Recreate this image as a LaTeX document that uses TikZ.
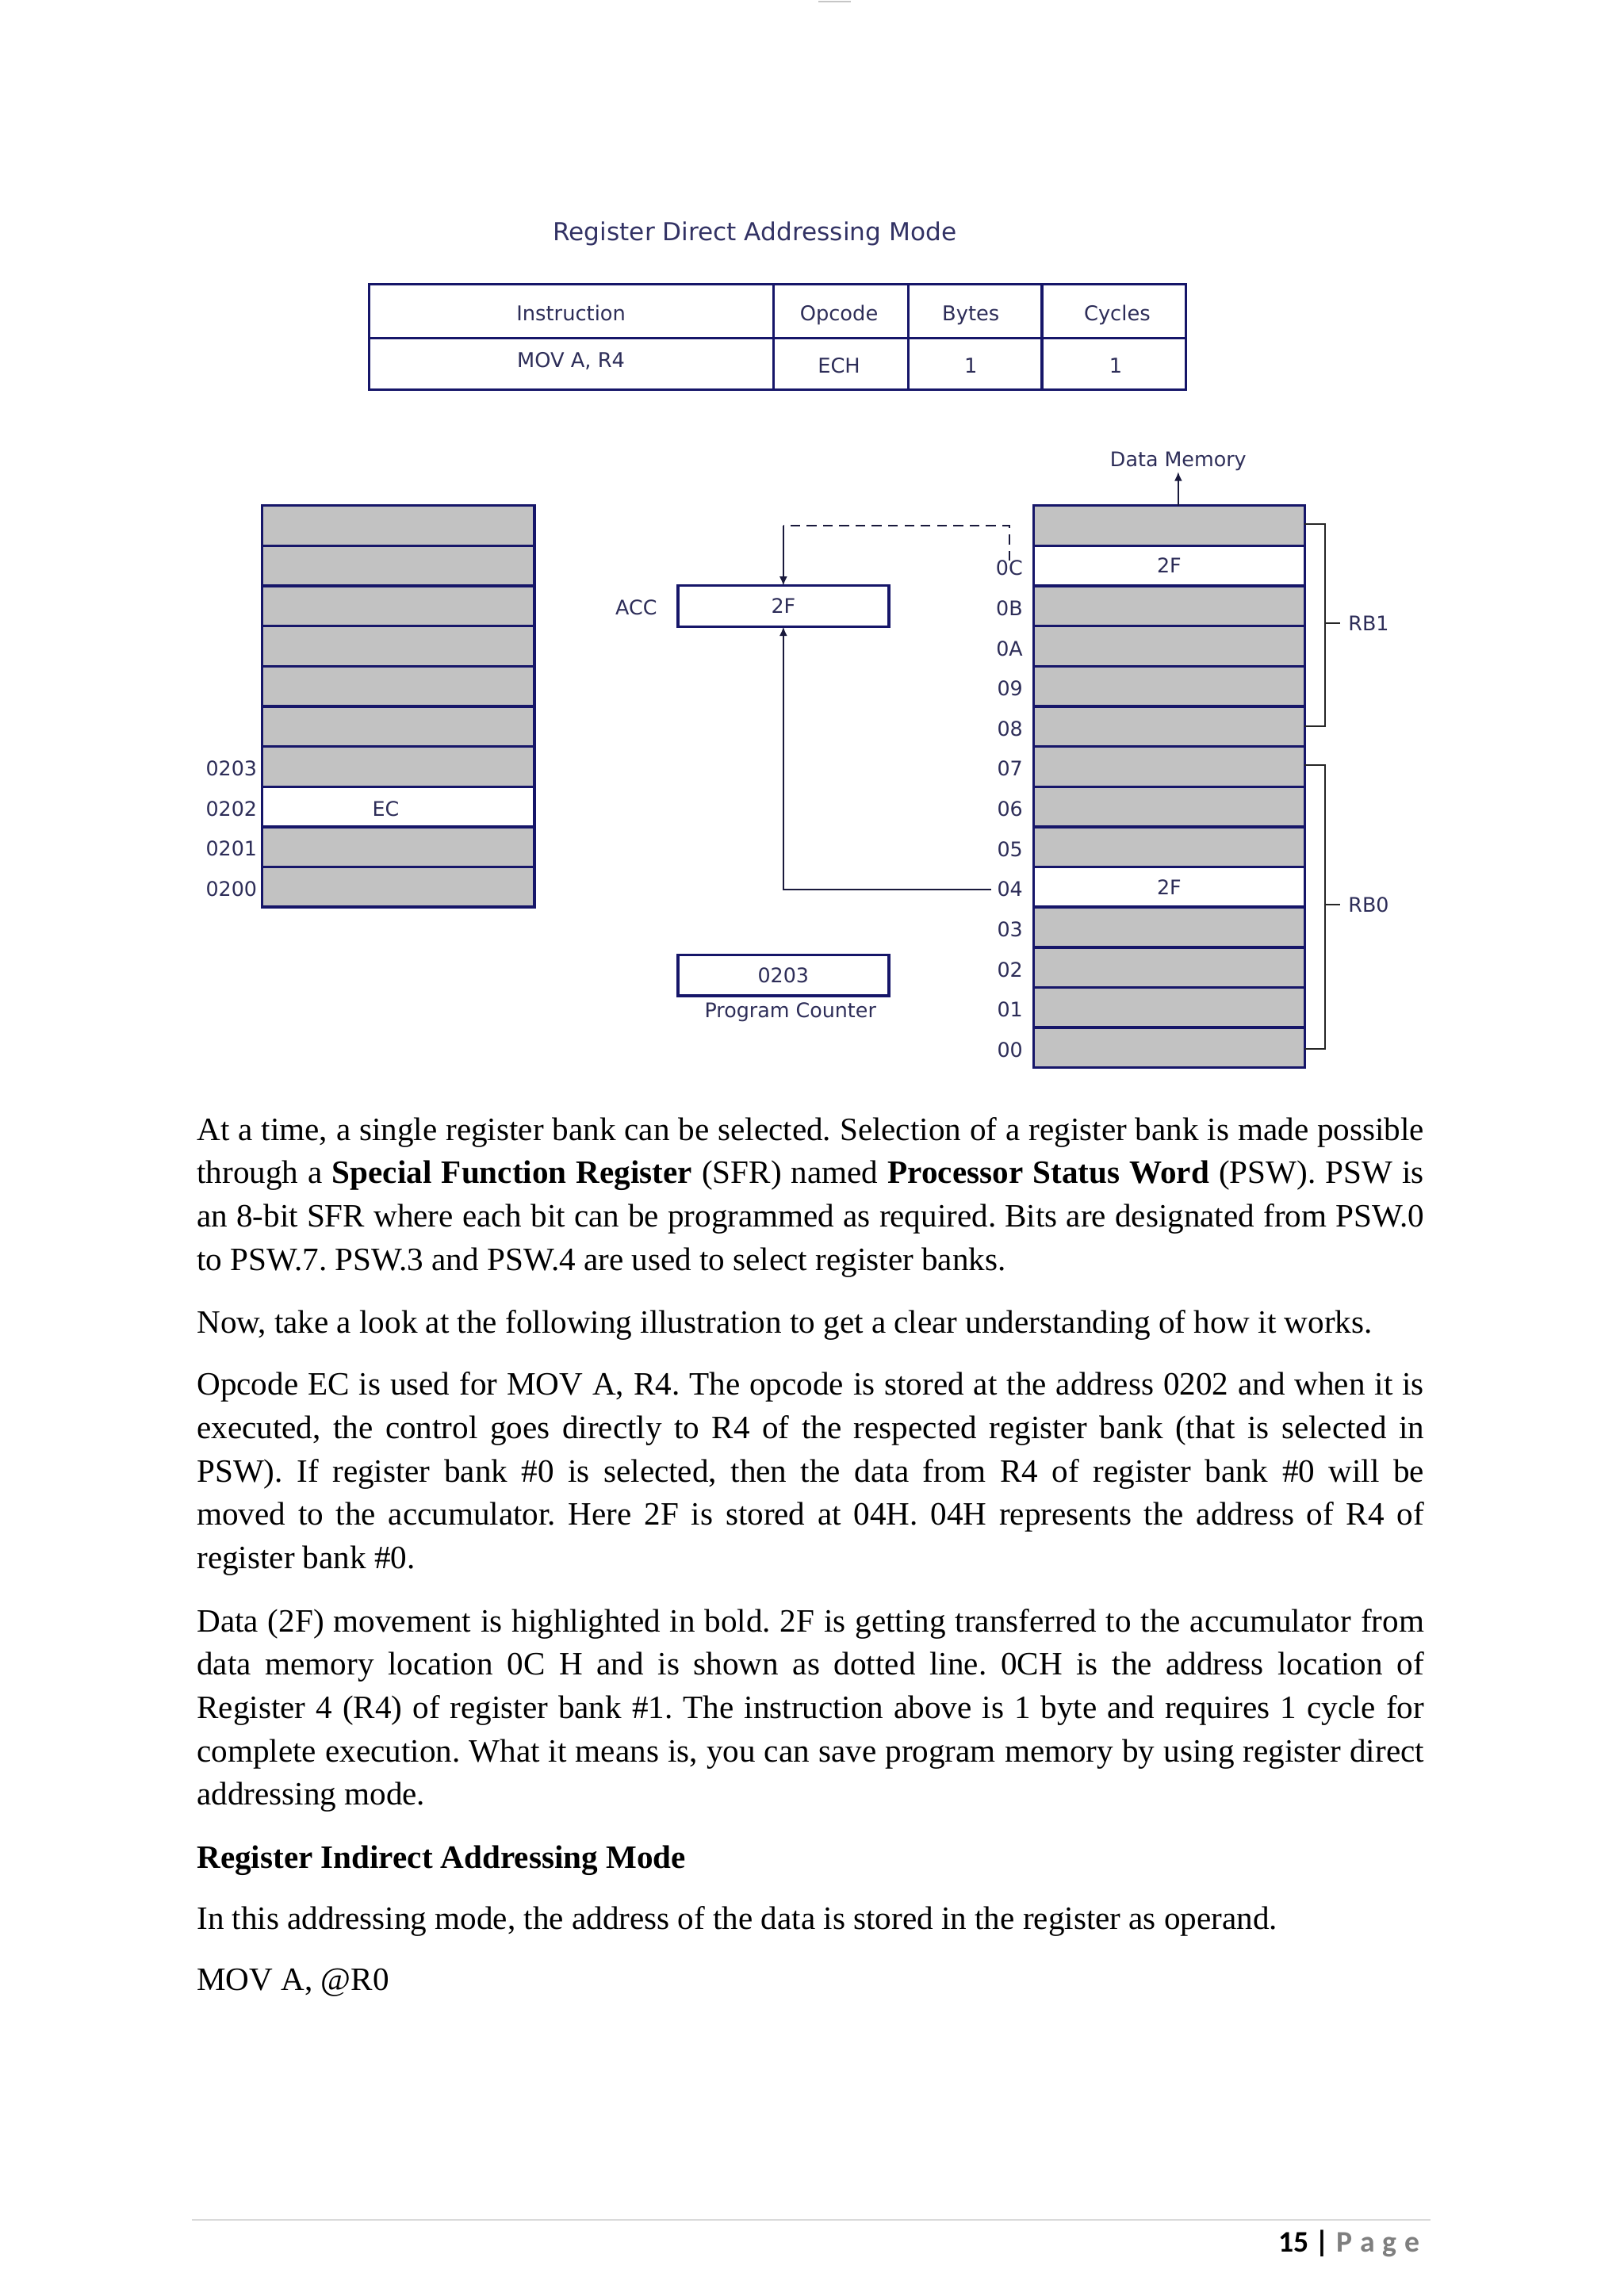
\documentclass[tikz,border=0pt]{standalone}
\usepackage{fontspec}
\setmainfont{Liberation Serif}
\newfontfamily\dvsfont{DejaVu Sans}
\newfontfamily\pagefont{Carlito}
\usetikzlibrary{arrows.meta,calc}
\definecolor{navy}{RGB}{22,22,105}
\definecolor{dtext}{RGB}{45,45,88}
\definecolor{ttext}{RGB}{50,50,100}
\definecolor{cellgray}{RGB}{194,194,194}
\definecolor{wire}{RGB}{25,25,60}
\definecolor{pagegray}{RGB}{127,127,127}
\definecolor{rulegray}{RGB}{218,218,218}
\def\pxu{0.18938mm}
\frenchspacing
\begin{document}
\frenchspacing
\begin{tikzpicture}[x=0.189360mm,y=-0.189413mm,
  body/.style={font=\frenchspacing\fontsize{12pt}{14pt}\selectfont, inner sep=0pt, anchor=base west},
  dlbl/.style={font=\dvsfont\fontsize{7.4pt}{9pt}\selectfont, text=dtext, inner sep=0pt, outer sep=0pt, text height=5.4pt, text depth=0pt},
  tlbl/.style={font=\dvsfont\fontsize{7.5pt}{9pt}\selectfont, text=dtext, inner sep=0pt, anchor=base},
  cell/.style={dlbl, draw=navy, line width=1pt, fill=cellgray, minimum height=27.42*\pxu, anchor=north west},
  regbox/.style={dlbl, draw=navy, line width=1pt, fill=white, minimum width=144*\pxu, minimum height=28*\pxu},
  tbl/.style={draw=navy, line width=1pt},
  wire/.style={draw=wire, line width=0.55pt},
  arr/.style={-{Latex[length=3.4pt,width=2.9pt]}},
  brk/.style={draw=black!85, line width=0.6pt}
]
\useasboundingbox (0,0) rectangle (1109,1568);
\draw[gray!45, line width=0.5pt] (559,1.2) -- (581,1.2);

% title and table
\node[font=\dvsfont\fontsize{9.1pt}{11pt}\selectfont, text=ttext, inner sep=0pt, anchor=base] (title) at (515.5,164.3) {Register Direct Addressing Mode};
\draw[tbl] (252,194) rectangle (810,266);
\draw[tbl] (252,231) -- (810,231);
\foreach \x in {528.3,620.3,711.6} \draw[tbl] (\x,194) -- (\x,266);
\node[tlbl] (thIns) at (390,218.8) {Instruction};
\node[tlbl] (thOp) at (573,218.8) {Opcode};
\node[tlbl] (thBy) at (663,218.8) {Bytes};
\node[tlbl] (thCy) at (763,218.8) {Cycles};
\node[tlbl] (tdIns) at (390,250.9) {MOV A, R4};
\node[tlbl] (tdOp) at (573,254.9) {ECH};
\node[tlbl] (tdBy) at (663,254.9) {1};
\node[tlbl] (tdCy) at (762,254.9) {1};

% program memory
\foreach \i/\f in {0/cellgray,1/cellgray,2/cellgray,3/cellgray,4/cellgray,5/cellgray,6/cellgray,7/white,8/cellgray,9/cellgray}
  \node[cell, fill=\f, minimum width=186*\pxu] (L\i) at (179,{345.3+\i*27.42}) {};
\node[dlbl] (ec) at (263.5,{346.5+7.5*27.42}) {EC};
\foreach \i/\t in {6/0203,7/0202,8/0201,9/0200}
  \node[dlbl, anchor=east] (l\t) at (175.5,{346.5+(\i+0.5)*27.42}) {\t};

% data memory
\foreach \i/\f/\t in {0/cellgray/{},1/white/2F,2/cellgray/{},3/cellgray/{},4/cellgray/{},5/cellgray/{},6/cellgray/{},7/cellgray/{},8/cellgray/{},9/white/2F,10/cellgray/{},11/cellgray/{},12/cellgray/{},13/cellgray/{}}
  \node[cell, fill=\f, minimum width=185*\pxu] (R\i) at (706,{345.3+\i*27.42}) {\t};
\foreach \i/\t in {1/0C,2/0B,3/0A,4/09,5/08,6/07,7/06,8/05,9/04,10/03,11/02,12/01,13/00}
  \node[dlbl, anchor=east] (lab\t) at (698.5,{346.8+(\i+0.5)*27.42}) {\t};
\node[dlbl, anchor=base] (dm) at (804.7,318.5) {Data Memory};
\draw[wire, arr] (R0.north -| dm.south) -- ([yshift=-0.7mm]dm.south);

% brackets
\draw[brk] (891,358) -| (905.2,496.2) -- (891,496.2);
\draw[brk] (905.2,425.5) -- (915.2,425.5);
\node[dlbl, anchor=west] (rb1) at (920.9,425.5) {RB1};
\draw[brk] (891,522.7) -| (905.2,716.5) -- (891,716.5);
\draw[brk] (905.2,617.8) -- (915.2,617.8);
\node[dlbl, anchor=west] (rb0) at (920.9,617.8) {RB0};

% accumulator and program counter
\node[regbox] (acc) at (535,414) {2F};
\node[dlbl] (acclbl) at (434.5,415) {ACC};
\node[regbox] (pc) at (535,666) {0203};
\node[dlbl] (pclbl) at (539.8,690) {Program Counter};

% connectors
\coordinate (dturn) at ($(acc.north)+(0,-41.2)$);
\draw[wire, dash pattern=on 3.6pt off 2.4pt] (lab0C.north) |- (dturn);
\draw[wire, arr] (dturn) -- (acc.north);
\draw[wire, arr] ($(lab04.west)+(-4,0)$) -| (acc.south);

% body text
\node[body] (p1a) at (134.13,778.6) {\makebox[158.7mm][s]{At a time, a single register bank can be selected. Selection of a register bank is made possible}};
\node[body] (p1b) at (134.13,808.3) {\makebox[158.7mm][s]{through a \textbf{Special Function Register} (SFR) named \textbf{Processor Status Word} (PSW). PSW is}};
\node[body] (p1c) at (134.13,837.9) {\makebox[158.7mm][s]{an 8-bit SFR where each bit can be programmed as required. Bits are designated from PSW.0}};
\node[body] (p1d) at (134.13,867.6) {to PSW.7. PSW.3 and PSW.4 are used to select register banks.};
\node[body] (p2) at (134.13,910.5) {Now, take a look at the following illustration to get a clear understanding of how it works.};
\node[body] (p3a) at (134.13,952.6) {\makebox[158.7mm][s]{Opcode EC is used for MOV A, R4. The opcode is stored at the address 0202 and when it is}};
\node[body] (p3b) at (134.13,982.3) {\makebox[158.7mm][s]{executed, the control goes directly to R4 of the respected register bank (that is selected in}};
\node[body] (p3c) at (134.13,1012.0) {\makebox[158.7mm][s]{PSW). If register bank \#0 is selected, then the data from R4 of register bank \#0 will be}};
\node[body] (p3d) at (134.13,1041.6) {\makebox[158.7mm][s]{moved to the accumulator. Here 2F is stored at 04H. 04H represents the address of R4 of}};
\node[body] (p3e) at (134.13,1071.2) {register bank \#0.};
\node[body] (p4a) at (134.13,1114.3) {\makebox[158.7mm][s]{Data (2F) movement is highlighted in bold. 2F is getting transferred to the accumulator from}};
\node[body] (p4b) at (134.13,1143.9) {\makebox[158.7mm][s]{data memory location 0C H and is shown as dotted line. 0CH is the address location of}};
\node[body] (p4c) at (134.13,1173.5) {\makebox[158.7mm][s]{Register 4 (R4) of register bank \#1. The instruction above is 1 byte and requires 1 cycle for}};
\node[body] (p4d) at (134.13,1203.2) {\makebox[158.7mm][s]{complete execution. What it means is, you can save program memory by using register direct}};
\node[body] (p4e) at (134.13,1232.8) {addressing mode.};
\node[body] (h1) at (134.13,1276.0) {\textbf{Register Indirect Addressing Mode}};
\node[body] (p5) at (134.13,1317.3) {In this addressing mode, the address of the data is stored in the register as operand.};
\node[body] (p6) at (134.13,1359.2) {MOV A, @R0};

% footer
\draw[draw=rulegray, line width=0.45pt] (131,1516) -- (977,1516);
\node[inner sep=0pt, anchor=base west, font=\pagefont\bfseries\fontsize{11pt}{13pt}\selectfont] (pg) at (872.7,1537.9) {15 | \textcolor{pagegray}{P\hspace{2.9pt}a\hspace{2.9pt}g\hspace{2.9pt}e}};
\end{tikzpicture}
\end{document}
